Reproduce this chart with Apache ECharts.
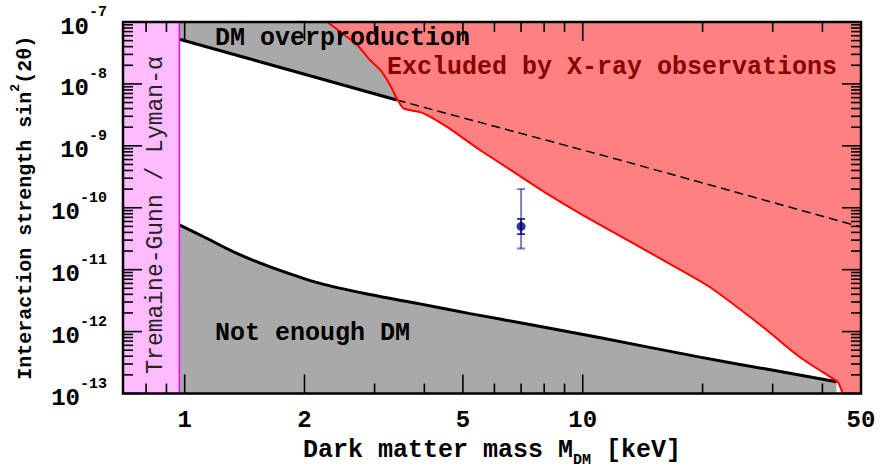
<!DOCTYPE html>
<html><head><meta charset="utf-8">
<script src="https://cdn.jsdelivr.net/npm/echarts@6/dist/echarts.min.js"></script>
<style>html,body{margin:0;padding:0;background:#fff}#c{width:884px;height:468px}</style>
</head><body><div id="c"></div>
<script>
// ---- data ----
const massRange = [0.7, 50];
const strengthRange = [1e-13, 1e-7];
const xTickLabels = [1, 2, 5, 10, 50];
const xMajorTicks = [1, 2, 5, 10];
const xMinorTicks = [0.8, 0.9, 3, 4, 6, 7, 8, 9, 20, 30, 40];
const yDecades = [1e-13, 1e-12, 1e-11, 1e-10, 1e-9, 1e-8, 1e-7];
const yMinorMultipliers = [2, 3, 4, 5, 6, 7, 8, 9];
const tremaineGunnMass = 0.97;
const overproductionSolid = [[0.97, 5.26e-8], [3.41, 5.5e-9]];
const overproductionDashed = [[3.41, 5.5e-9], [12.4, 5.9e-10], [50, 4.9e-11]];
const notEnoughDM = [[0.97, 5.3e-11], [1.116, 3.4e-11], [1.353, 1.83e-11], [1.64, 1.11e-11], [2.19, 6.0e-12],
  [2.92, 3.96e-12], [3.90, 2.80e-12], [5.21, 1.95e-12], [7.36, 1.30e-12], [11.0, 8.0e-13], [19.7, 3.87e-13],
  [28.9, 2.48e-13], [43.4, 1.55e-13]];
const xrayLimit = [[2.28, 1e-7], [2.71, 4.25e-8], [2.92, 2.43e-8], [3.10, 1.68e-8], [3.28, 9.6e-9], [3.41, 5.85e-9],
  [3.54, 4.03e-9], [3.68, 3.78e-9], [3.75, 3.69e-9], [3.98, 3.35e-9], [4.55, 2.04e-9], [5.52, 8.55e-10],
  [6.69, 3.82e-10], [8.11, 1.71e-10], [9.83, 8.13e-11], [11.0, 5.4e-11], [13.4, 2.66e-11], [16.2, 1.34e-11],
  [20.8, 5.3e-12], [28.3, 1.2e-12], [35.0, 3.92e-13], [42.4, 1.75e-13], [43.7, 1.55e-13], [45.0, 1e-13]];
const signalPoint = [[7.0, 5.0e-11]];
const signalInnerError = [[7.0, 3.75e-11, 6.6e-11]];
const signalOuterError = [[7.0, 2.2e-11, 2.0e-10]];

// ---- styles ----
const FONT = '"Liberation Mono", "DejaVu Sans Mono", monospace';
const GRAY = '#a9a9a9', RED_FILL = '#ff8080', PINK = '#ffbbff';

const chart = echarts.init(document.getElementById('c'), null, {renderer: 'svg'});

function errorBarRenderer(color, width) {
  return function (params, api) {
    const x = api.value(0), lo = api.value(1), hi = api.value(2);
    const p1 = api.coord([x, lo]), p2 = api.coord([x, hi]);
    const st = {stroke: color, lineWidth: width};
    const cw = 4;
    return {type: 'group', children: [
      {type: 'line', shape: {x1: p1[0], y1: p1[1], x2: p2[0], y2: p2[1]}, style: st},
      {type: 'line', shape: {x1: p1[0] - cw, y1: p1[1], x2: p1[0] + cw, y2: p1[1]}, style: st},
      {type: 'line', shape: {x1: p2[0] - cw, y1: p2[1], x2: p2[0] + cw, y2: p2[1]}, style: st}
    ]};
  };
}

function overlayRenderer(params, api) {
  const bl = api.coord([massRange[0], strengthRange[0]]);
  const tr = api.coord([massRange[1], strengthRange[1]]);
  const x0 = bl[0], yb = bl[1], x1 = tr[0], yt = tr[1];
  const children = [];
  const st = {stroke: '#000', lineWidth: 1.6};
  const addX = (v, len) => {
    const px = api.coord([v, strengthRange[0]])[0];
    children.push({type: 'line', shape: {x1: px, y1: yb, x2: px, y2: yb - len}, style: st});
    children.push({type: 'line', shape: {x1: px, y1: yt, x2: px, y2: yt + len}, style: st});
  };
  xMajorTicks.forEach(v => addX(v, 19));
  xMinorTicks.forEach(v => addX(v, 10));
  const addY = (v, len) => {
    const py = api.coord([massRange[0], v])[1];
    children.push({type: 'line', shape: {x1: x0, y1: py, x2: x0 + len, y2: py}, style: st});
    children.push({type: 'line', shape: {x1: x1, y1: py, x2: x1 - len, y2: py}, style: st});
  };
  yDecades.forEach((d, i) => {
    addY(d, 19);
    if (i < yDecades.length - 1) yMinorMultipliers.forEach(m => addY(d * m, 10));
  });
  xTickLabels.forEach(v => {
    const px = api.coord([v, strengthRange[0]])[0];
    children.push({type: 'text', x: px, y: yb + 27, style: {text: String(v), fontSize: 24, fontWeight: 'bold',
      fontFamily: FONT, fill: '#000', align: 'center', verticalAlign: 'middle'}});
  });
  children.push({type: 'rect', shape: {x: x0, y: yt, width: x1 - x0, height: yb - yt},
    style: {fill: 'none', stroke: '#000', lineWidth: 2.5}});
  return {type: 'group', children};
}

const option = {
  animation: false,
  grid: {left: 123, right: 23, top: 22, bottom: 74.5, containLabel: false, outerBoundsMode: 'none'},
  xAxis: {
    type: 'log', logBase: 10, min: massRange[0], max: massRange[1],
    axisLine: {show: false}, axisTick: {show: false}, axisLabel: {show: false}, splitLine: {show: false},
    name: '{t|Dark matter mass M}{sub|DM}{t| [keV]}', nameLocation: 'middle', nameGap: 44,
    nameTextStyle: {
      fontSize: 25, fontWeight: 'bold', fontFamily: FONT, color: '#000',
      rich: {
        t: {fontSize: 25, fontWeight: 'bold', fontFamily: FONT, color: '#000', padding: [0, 0, 5, 0], verticalAlign: 'top'},
        sub: {fontSize: 15, fontWeight: 'bold', fontFamily: FONT, color: '#000', verticalAlign: 'bottom'}
      }
    }
  },
  yAxis: {
    type: 'log', logBase: 10, min: strengthRange[0], max: strengthRange[1], splitNumber: 6,
    axisLine: {show: false}, axisTick: {show: false}, splitLine: {show: false},
    axisLabel: {
      margin: 16,
      formatter: v => '{b|10}{s|' + Math.round(Math.log10(v)) + '}',
      rich: {
        b: {fontSize: 24, fontWeight: 'bold', fontFamily: FONT, color: '#000', padding: [10, 0, 0, 0], verticalAlign: 'bottom'},
        s: {fontSize: 15, fontWeight: 'bold', fontFamily: FONT, color: '#000', verticalAlign: 'top'}
      }
    },
    name: '{t|Interaction strength sin}{s|2}{t|(2θ)}', nameLocation: 'middle', nameGap: 88,
    nameTextStyle: {
      fontSize: 20, fontWeight: 'bold', fontFamily: FONT, color: '#000',
      rich: {
        t: {fontSize: 20, fontWeight: 'bold', fontFamily: FONT, color: '#000', padding: [6, 0, 0, 0], verticalAlign: 'bottom'},
        s: {fontSize: 13, fontWeight: 'bold', fontFamily: FONT, color: '#000', verticalAlign: 'top'}
      }
    }
  },
  series: [
    {type: 'line', z: 1, data: [[massRange[0], strengthRange[1]], [tremaineGunnMass, strengthRange[1]]],
      symbol: 'none', lineStyle: {width: 0}, areaStyle: {color: PINK, opacity: 1, origin: 'start'}},
    {type: 'line', z: 2, data: overproductionSolid.concat(overproductionDashed.slice(1)), symbol: 'none',
      lineStyle: {width: 0}, areaStyle: {color: GRAY, opacity: 1, origin: 'end'}},
    {type: 'line', z: 2, data: notEnoughDM, symbol: 'none', smooth: 0.3,
      lineStyle: {width: 0}, areaStyle: {color: GRAY, opacity: 1, origin: 'start'}},
    {type: 'line', z: 3, data: xrayLimit.concat([[massRange[1], strengthRange[0]]]), symbol: 'none', smooth: 0.25,
      lineStyle: {width: 0}, areaStyle: {color: RED_FILL, opacity: 1, origin: 'end'}},
    {type: 'line', z: 4, data: overproductionSolid, symbol: 'none', lineStyle: {color: '#000', width: 3}},
    {type: 'line', z: 4, data: overproductionDashed, symbol: 'none',
      lineStyle: {color: '#000', width: 1.5, type: [9, 5]}},
    {type: 'line', z: 4, data: notEnoughDM, symbol: 'none', smooth: 0.3, lineStyle: {color: '#000', width: 3}},
    {type: 'line', z: 5, data: xrayLimit, symbol: 'none', smooth: 0.25, lineStyle: {color: '#ff0000', width: 2}},
    {type: 'line', z: 5, data: [[tremaineGunnMass, strengthRange[0]], [tremaineGunnMass, strengthRange[1]]],
      symbol: 'none', lineStyle: {color: '#ff00ff', width: 1.5}},
    {type: 'custom', z: 6, data: signalOuterError, encode: {x: 0, y: [1, 2]},
      renderItem: errorBarRenderer('rgba(0,0,128,0.5)', 2)},
    {type: 'custom', z: 7, data: signalInnerError, encode: {x: 0, y: [1, 2]},
      renderItem: errorBarRenderer('#000080', 1.5)},
    {type: 'scatter', z: 8, data: signalPoint, symbol: 'circle', symbolSize: 9, itemStyle: {color: '#000080'}},
    {type: 'custom', z: 20, data: [[massRange[0], strengthRange[0]]], encode: {x: 0, y: 1},
      renderItem: overlayRenderer, silent: true}
  ],
  graphic: [
    {type: 'text', x: 215, y: 38, z: 30, style: {text: 'DM overproduction', fontSize: 25, fontWeight: 'bold',
      fontFamily: FONT, fill: '#000', align: 'left', verticalAlign: 'middle'}},
    {type: 'text', x: 387, y: 67, z: 30, style: {text: 'Excluded by X-ray observations', fontSize: 25,
      fontWeight: 'bold', fontFamily: FONT, fill: '#8b0000', align: 'left', verticalAlign: 'middle'}},
    {type: 'text', x: 215, y: 333, z: 30, style: {text: 'Not enough DM', fontSize: 25, fontWeight: 'bold',
      fontFamily: FONT, fill: '#000', align: 'left', verticalAlign: 'middle'}},
    {type: 'text', x: 156, y: 215, z: 30, rotation: Math.PI / 2, style: {text: 'Tremaine-Gunn / Lyman-α',
      fontSize: 23, fontFamily: FONT, fill: '#222', align: 'center', verticalAlign: 'middle'}}
  ]
};
chart.setOption(option);
</script></body></html>
